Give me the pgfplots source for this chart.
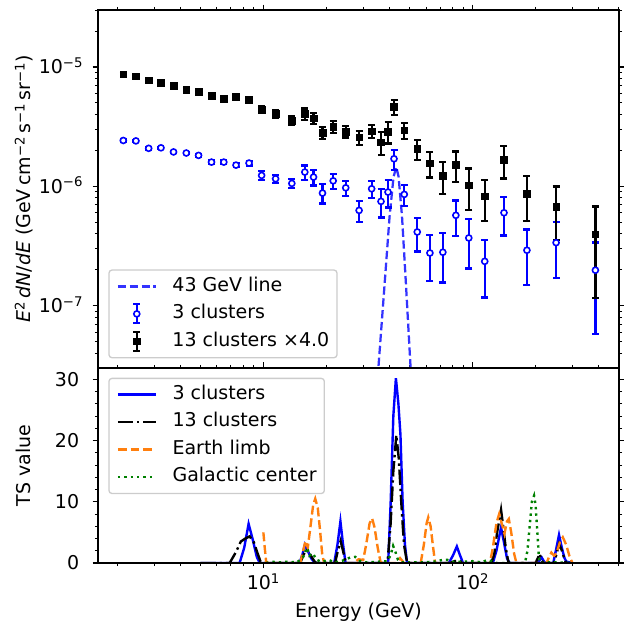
\documentclass[border=0pt]{standalone}
\usepackage{fontspec}
\setmainfont{DejaVu Sans}[ItalicFont={DejaVu Sans Oblique}]
\usepackage{pgfplots}
\pgfplotsset{compat=1.18}
\usepackage{pgfplotstable}

\definecolor{mplblue}{rgb}{0,0,1}
\definecolor{mplorange}{HTML}{FF7F0E}
\definecolor{mplgreen}{rgb}{0,0.5,0}
\definecolor{legendedge}{gray}{0.8}
\definecolor{linecol}{rgb}{0.2,0.2,1}
\newcommand{\fs}{\fontsize{19}{22.8}\selectfont}

\pgfplotstableread{
E F err
2.14 8.69e-6 0.25e-6
2.46 8.36e-6 0.25e-6
2.83 7.74e-6 0.24e-6
3.24 7.40e-6 0.24e-6
3.72 6.99e-6 0.23e-6
4.28 6.47e-6 0.23e-6
4.90 6.22e-6 0.25e-6
5.65 5.72e-6 0.25e-6
6.47 5.40e-6 0.25e-6
7.40 5.61e-6 0.27e-6
8.54 5.34e-6 0.28e-6
9.81 4.40e-6 0.31e-6
11.44 4.04e-6 0.27e-6
13.68 3.56e-6 0.30e-6
15.78 4.04e-6 0.45e-6
17.37 3.72e-6 0.40e-6
19.17 2.82e-6 0.33e-6
21.56 3.15e-6 0.36e-6
24.76 2.87e-6 0.31e-6
28.68 2.57e-6 0.35e-6
32.93 2.90e-6 0.38e-6
36.50 2.34e-6 0.52e-6
39.43 2.86e-6 0.58e-6
42.11 4.63e-6 0.69e-6
47.15 2.94e-6 0.44e-6
54.39 2.06e-6 0.40e-6
62.52 1.56e-6 0.375e-6
72.1 1.23e-6 0.37e-6
83.2 1.52e-6 0.44e-6
95.9 1.02e-6 0.39e-6
114.3 8.23e-7 0.31e-6
141.3 1.66e-6 0.50e-6
181.9 8.65e-7 0.35e-6
250.7 6.74e-7 0.32e-6
386.5 3.96e-7 0.28e-6
}\blackdata

\pgfplotstableread{
E F err
2.14 2.42e-6 0.05e-6
2.46 2.40e-6 0.05e-6
2.83 2.08e-6 0.05e-6
3.24 2.10e-6 0.05e-6
3.72 1.94e-6 0.05e-6
4.28 1.90e-6 0.05e-6
4.90 1.815e-6 0.05e-6
5.65 1.594e-6 0.06e-6
6.47 1.594e-6 0.06e-6
7.40 1.504e-6 0.06e-6
8.54 1.565e-6 0.07e-6
9.81 1.233e-6 0.10e-6
11.44 1.156e-6 0.087e-6
13.68 1.057e-6 0.095e-6
15.78 1.315e-6 0.18e-6
17.37 1.194e-6 0.18e-6
19.17 8.77e-7 0.16e-6
21.56 1.111e-6 0.156e-6
24.76 9.71e-7 0.14e-6
28.68 6.28e-7 0.125e-6
32.93 9.53e-7 0.155e-6
36.50 7.47e-7 0.20e-6
39.43 8.94e-7 0.23e-6
42.11 1.70e-6 0.325e-6
47.15 8.55e-7 0.167e-6
54.39 4.14e-7 0.13e-6
62.52 2.76e-7 0.114e-6
72.1 2.80e-7 0.124e-6
83.2 5.71e-7 0.19e-6
95.9 3.69e-7 0.164e-6
114.3 2.35e-7 0.118e-6
141.3 6.00e-7 0.213e-6
181.9 2.91e-7 0.143e-6
250.7 3.37e-7 0.167e-6
386.5 1.98e-7 0.14e-6
}\bluedata

\pgfplotsset{
  linelegend/.style={legend image code/.code={%
    \path[draw=none, fill=none] (0pt,-5pt) (38pt,5pt);
    \draw[##1] (0pt,0pt) -- (38pt,0pt);}},
  errlegend/.style={legend image code/.code={%
    \path[draw=none, fill=none] (0pt,-5pt) (38pt,5pt);
    \draw[##1, overlay, line width=2.2pt] (19pt,-9.5pt) -- (19pt,9.5pt) (15.5pt,-9.5pt) -- (22.5pt,-9.5pt) (15.5pt,9.5pt) -- (22.5pt,9.5pt);
    \draw[##1, overlay] plot coordinates {(19pt,0pt)};}},
}

\begin{document}
\begin{tikzpicture}
% ---------------- bottom panel ----------------
\begin{axis}[
  scale only axis, width=521pt, height=195pt,
  at={(0,0)}, anchor=south west,
  xmode=log, xmin=1.62, xmax=501,
  ymin=0, ymax=31.86,
  axis on top,
  tick align=outside,
  major tick length=5.5pt, minor tick length=3.2pt,
  major tick style={line width=1.25pt, black},
  minor tick style={line width=0.95pt, black},
  axis line style={line width=1.25pt},
  tick label style={font=\fs},
  label style={font=\fs},
  xtick={10,100},
  minor xtick={2,3,4,5,6,7,8,9,20,30,40,50,60,70,80,90,200,300,400,500},
  ytick={0,10,20,30}, yticklabels={0,10,20,30},
  minor ytick={2,4,6,8,12,14,16,18,22,24,26,28},
  xtick pos=both, ytick pos=both, xticklabel pos=left, yticklabel pos=left,
  xticklabels={10\textsuperscript{1},10\textsuperscript{2}},
  xticklabel style={anchor=base, inner sep=0pt, yshift=-21.5pt},
  yticklabel style={anchor=base east, inner sep=0pt, xshift=-13.2pt, yshift=-6.9pt},
  xlabel={Energy (GeV)},
  xlabel style={at={(axis description cs:0.5,-0.282)}, anchor=base},
  ylabel={TS value},
  ylabel style={at={(axis description cs:-0.1286,0.5)}, rotate=0, anchor=base},
  legend cell align=left,
  legend style={font=\fs, draw=legendedge, line width=1.3pt, rounded corners=3pt,
    fill=white, inner xsep=7.7pt, inner ysep=7.8pt, row sep=10.5pt, column sep=15.5pt,
    nodes={inner sep=0pt, text height=13.3pt, text depth=3.7pt},
    at={(axis description cs:0.0198,0.95)}, anchor=north west},
]
\addplot[linelegend, mplblue, line width=2.4pt] coordinates {
(5.0,0) (7.7,0) (8.1,2.5) (8.5,6.4) (8.9,3.8) (9.3,1.0) (9.6,0)
(14.9,0) (15.4,1.5) (15.8,3.0) (16.3,2.0) (16.9,0.8) (17.6,0)
(21.8,0) (22.6,3.0) (23.35,6.8) (24.0,3.2) (24.7,0)
(39.5,0) (40.6,10) (41.8,24) (43.0,30.2) (44.2,26) (45.2,21) (46.3,10) (47.5,3) (48.5,0.3) (49.5,0)
(77,0) (80.5,1.2) (84.1,2.7) (87,1.3) (90,0)
(125,0) (130,2.0) (136.8,5.8) (141,3.5) (146,0.8) (150,0)
(204,0) (209,0.4) (214,0.9) (219,0.3) (223,0)
(243,0) (250,2.0) (258.9,4.6) (267,2.5) (275,0.8) (281,0.2) (302,0)
};
\addlegendentry{3 clusters}
\addplot[linelegend, black, line width=2.4pt, dash pattern=on 15.4pt off 3.8pt on 2.4pt off 3.8pt] coordinates {
(5.0,0) (6.9,0) (7.4,1.8) (7.8,3.5) (8.2,4.0) (8.6,4.35) (9.0,3.4) (9.4,1.5) (9.7,0.2) (10,0)
(15.0,0) (15.5,1.2) (16.0,2.2) (16.5,1.8) (17.0,1.0) (17.6,0.2) (18,0)
(22.0,0) (22.7,2.0) (23.4,3.6) (24.1,1.8) (24.8,0)
(39.2,0) (40.5,6) (41.8,15) (43.2,20.9) (44.4,17) (45.6,10) (47,3) (48.5,0.3) (49.5,0)
(78,0) (82,0.3) (86,0.4) (90,0)
(123,0) (127,1.5) (131,5) (136.8,8.7) (140,6) (144,2.5) (148,0.3) (150,0)
(200,0) (205,0.8) (209,1.5) (213,0.6) (218,0)
(245,0) (252,1.5) (259,3.1) (266,2.2) (274,0.8) (280,0) (300,0)
};
\addlegendentry{13 clusters}
\addplot[linelegend, mplorange, line width=2.4pt, dash pattern=on 8.9pt off 3.8pt] coordinates {
(10.0,5.0) (10.15,2.5) (10.3,0.3) (10.5,0)
(15.0,0) (15.5,2.0) (15.9,3.6) (16.3,2.5) (16.8,6.0) (17.3,9.5) (17.7,10.5) (18.2,9.0) (18.7,5.0) (19.1,1.5) (19.5,0)
(27.0,0) (28.5,0.6) (30.0,0.5) (31.0,3.0) (32.2,6.5) (33.1,7.3) (34.0,5.8) (35.2,2.5) (36.3,0.2) (37,0)
(43,0) (45,0.8) (47,0)
(56.5,0) (58.5,3.0) (60.3,6.5) (61.4,7.45) (63.0,6.0) (64.8,2.5) (66.2,0)
(121,0) (125,2.5) (130,6.5) (134,8.0) (139,6.0) (142,4.8) (146,6.8) (149,7.2) (153,5.0) (158,1.5) (162,0)
(226,0) (232,1.0) (238,1.7) (245,1.2) (252,1.6) (262,3.5) (270,4.2) (280,3.0) (290,1.2) (300,0)
};
\addlegendentry{Earth limb}
\addplot[linelegend, mplgreen, line width=2.4pt, dash pattern=on 2.4pt off 4pt] coordinates {
(10.3,0) (11.0,0.2) (12.0,0.1) (13.0,0.2) (14.5,0.1) (15.5,1.0) (16.2,2.5) (16.6,1.2) (17.2,1.6) (18.0,0.5) (19.0,0.2) (20.5,0.5) (22,0.1) (24.0,0.4) (26.0,0.9) (27.5,1.0) (29.0,0.3) (31,0.1) (35,0.2) (39,0.3) (40.5,1.2) (41.7,2.8) (42.8,1.8) (44,0.5) (46,0.1) (55,0.1) (65,0.2) (72,0.5) (76,0.5) (80,0.2) (90,0.2) (100,0.3) (110,0.1) (118,0.5) (123,0.3) (130,0) (178,0) (183,2.0) (188,6.5) (192,10.0) (196.8,11.0) (200,9.5) (204,5.0) (207,1.5) (210,0) (230,0.1) (260,0.1) (300,0)
};
\addlegendentry{Galactic center}
\end{axis}

% ---------------- top panel ----------------
\begin{axis}[
  scale only axis, width=521pt, height=358pt,
  at={(0,195pt)}, anchor=south west,
  xmode=log, xmin=1.62, xmax=501,
  ymode=log, ymin=3e-8, ymax=3e-5,
  axis on top,
  tick align=outside,
  major tick length=5.5pt, minor tick length=3.2pt,
  major tick style={line width=1.25pt, black},
  minor tick style={line width=0.95pt, black},
  axis line style={line width=1.25pt},
  tick label style={font=\fs},
  label style={font=\fs},
  xtick={10,100},
  minor xtick={2,3,4,5,6,7,8,9,20,30,40,50,60,70,80,90,200,300,400,500},
  ytick={1e-7,1e-6,1e-5},
  yticklabels={10\textsuperscript{−7},10\textsuperscript{−6},10\textsuperscript{−5}},
  minor ytick={4e-8,5e-8,6e-8,7e-8,8e-8,9e-8,2e-7,3e-7,4e-7,5e-7,6e-7,7e-7,8e-7,9e-7,2e-6,3e-6,4e-6,5e-6,6e-6,7e-6,8e-6,9e-6,2e-5,3e-5},
  xtick pos=right, ytick pos=both, yticklabel pos=left,
  xticklabels={},
  yticklabel style={anchor=base east, inner sep=0pt, xshift=-9.2pt, yshift=-6.9pt},
  ylabel={\textit{E}\textsuperscript{2}\,\textit{dN}/\textit{dE} (GeV\,cm\textsuperscript{−2}\,s\textsuperscript{−1}\,sr\textsuperscript{−1})},
  ylabel style={at={(axis description cs:-0.1286,0.5)}, rotate=0, anchor=base},
  legend cell align=left,
  legend style={font=\fs, draw=legendedge, line width=1.3pt, rounded corners=3pt,
    fill=white, inner xsep=7.7pt, inner ysep=7.8pt, row sep=10.5pt, column sep=15.5pt,
    nodes={inner sep=0pt, text height=13.3pt, text depth=3.7pt},
    at={(axis description cs:0.0198,0.027)}, anchor=south west},
]
\addplot[linelegend, linecol, line width=2.25pt, dash pattern=on 8.3pt off 3.6pt] coordinates {
(33.0,5e-9) (35.6,3.3e-8) (38.0,1.54e-7) (40.1,5.56e-7) (41.9,1.20e-6) (43.2,1.45e-6) (44.3,1.20e-6) (46.0,5.56e-7) (48.0,1.54e-7) (50.4,3.3e-8) (53.5,6e-9)
};
\addlegendentry{43 GeV line}
% error bars first (both series), markers afterwards
\addplot[forget plot, mplblue, only marks, mark=none,
  error bars/.cd, y dir=both, y explicit,
  error bar style={line width=2.2pt, mplblue},
  error mark options={rotate=90, mark size=3.5pt, line width=2.2pt, mplblue}]
  table[x=E, y=F, y error=err] {\bluedata};
\addplot[forget plot, black, only marks, mark=none,
  error bars/.cd, y dir=both, y explicit,
  error bar style={line width=2.2pt, black},
  error mark options={rotate=90, mark size=3.5pt, line width=2.2pt, black}]
  table[x=E, y=F, y error=err] {\blackdata};
\addplot[errlegend, mplblue, only marks, mark=*, mark size=3pt,
  mark options={solid, fill=white, draw=mplblue, line width=1.6pt}]
  table[x=E, y=F] {\bluedata};
\addlegendentry{3 clusters}
\addplot[errlegend, black, only marks, mark=square*, mark size=3.3pt,
  mark options={solid, fill=black, draw=black, line width=0.5pt}]
  table[x=E, y=F] {\blackdata};
\addlegendentry{13 clusters ×4.0}
\end{axis}
\pgfresetboundingbox
\path[use as bounding box] (-98pt,-60pt) rectangle (526pt,563pt);
\end{tikzpicture}
\end{document}
